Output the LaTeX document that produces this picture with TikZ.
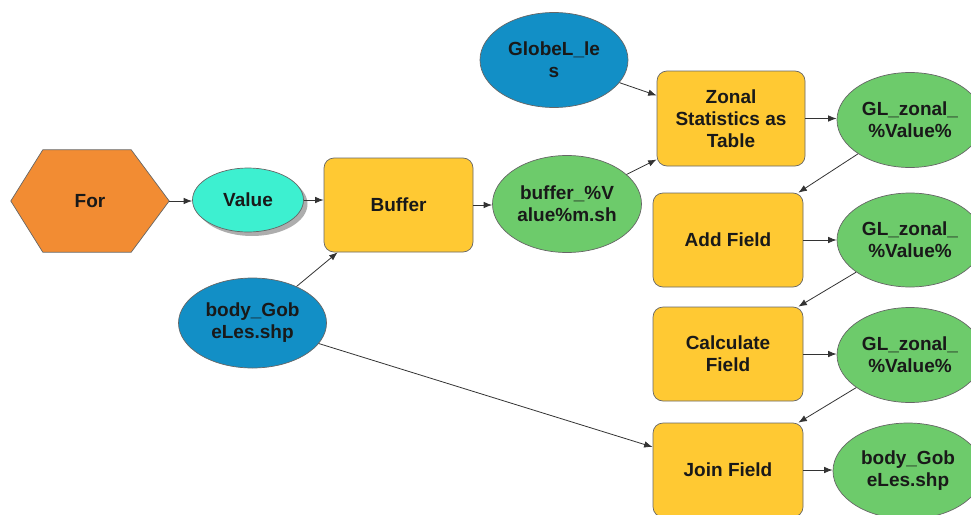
\documentclass[tikz,border=0pt]{standalone}
\usepackage{fontspec}
\setmainfont{Liberation Sans}
\usetikzlibrary{arrows.meta,shadows,shapes.geometric}
\definecolor{forc}{HTML}{F28C33}
\definecolor{valc}{HTML}{3DF0D0}
\definecolor{toolc}{HTML}{FFC933}
\definecolor{datac}{HTML}{6DCB6B}
\definecolor{inc}{HTML}{128FC6}
\definecolor{edgec}{HTML}{333333}
\tikzset{
  base/.style={font=\fontsize{19}{22}\selectfont\bfseries, align=center, inner sep=0pt, text=black!90},
  toolbox/.style={base, rectangle, rounded corners=10pt, fill=toolc, draw=black!60, line width=0.7pt, minimum width=149pt, minimum height=94pt},
  dataell/.style={base, ellipse, fill=datac, draw=black!60, line width=0.7pt, minimum width=148pt, minimum height=94pt},
  inell/.style={base, ellipse, fill=inc, draw=black!60, line width=0.7pt, minimum width=148pt, minimum height=92pt},
  arr/.style={draw=edgec, line width=0.8pt, -{Latex[length=8.5pt,width=6.5pt]}},
}
\begin{document}
\begin{tikzpicture}[x=1pt,y=-1pt]
\useasboundingbox (0,0) rectangle (971,514);
% For hexagon
\node[base, minimum width=158pt, minimum height=102pt] (for) at (90,201) {};
\fill[forc, draw=black!60, line width=0.7pt] (for.west) -- ([xshift=32pt]for.north west) -- ([xshift=-38pt]for.north east) -- (for.east) -- ([xshift=-38pt]for.south east) -- ([xshift=32pt]for.south west) -- cycle;
\node[base] at (for) {For};
% Value
\node[base, ellipse, fill=valc, draw=black!60, line width=0.7pt, minimum width=111pt, minimum height=64pt,
      drop shadow={shadow xshift=4pt, shadow yshift=-4pt, fill=black!40, opacity=0.8}] (value) at (248,200) {Value};
% tools
\node[toolbox] (buf) at (398.5,205) {Buffer};
\node[toolbox, minimum width=148pt, minimum height=95pt] (zonal) at (731,118.5) {Zonal\\Statistics as\\Table};
\node[toolbox, minimum width=150pt] (add) at (728,240) {Add Field};
\node[toolbox, minimum width=150pt] (calc) at (728,354) {Calculate\\Field};
\node[toolbox, minimum width=150pt] (join) at (728,470) {Join Field};
% inputs
\node[inell, minimum height=90pt] (body) at (252.5,323) {body\_Gob\\eLes.shp};
\node[inell, minimum height=95pt] (globe) at (554,60) {GlobeL\_le\\s};
% data
\node[dataell, minimum height=97pt, minimum width=149pt] (bufout) at (567,204) {buffer\_\%V\\alue\%m.sh};
\node[dataell, minimum width=146pt, minimum height=95pt] (gl1) at (910,120) {GL\_zonal\_\\\%Value\%};
\node[dataell, minimum width=146pt] (gl2) at (910,240) {GL\_zonal\_\\\%Value\%};
\node[dataell, minimum width=146pt, minimum height=95pt] (gl3) at (910,355) {GL\_zonal\_\\\%Value\%};
\node[dataell, minimum width=150pt, minimum height=96pt] (out) at (908,471) {body\_Gob\\eLes.shp};
% connectors
\draw[arr] (for.east) -- (for.east -| value.west);
\draw[arr] (value.east) -- (value.east -| buf.west);
\draw[arr] (buf.east) -- (buf.east -| bufout.west);
\draw[arr] (body) -- ([xshift=14pt]buf.south west);
\draw[arr] (body) -- ([yshift=23pt]join.west);
\draw[arr] (globe) -- ([yshift=23pt]zonal.west);
\draw[arr] (bufout) -- ([yshift=-41pt]zonal.west);
\draw[arr] (zonal.east) -- (zonal.east -| gl1.west);
\draw[arr] (gl1) -- ([xshift=-5pt]add.north east);
\draw[arr] (add.east) -- (add.east -| gl2.west);
\draw[arr] (gl2) -- ([xshift=-5pt]calc.north east);
\draw[arr] (calc.east) -- (calc.east -| gl3.west);
\draw[arr] (gl3) -- ([xshift=-5pt]join.north east);
\draw[arr] (join.east) -- (join.east -| out.west);
\end{tikzpicture}
\end{document}
